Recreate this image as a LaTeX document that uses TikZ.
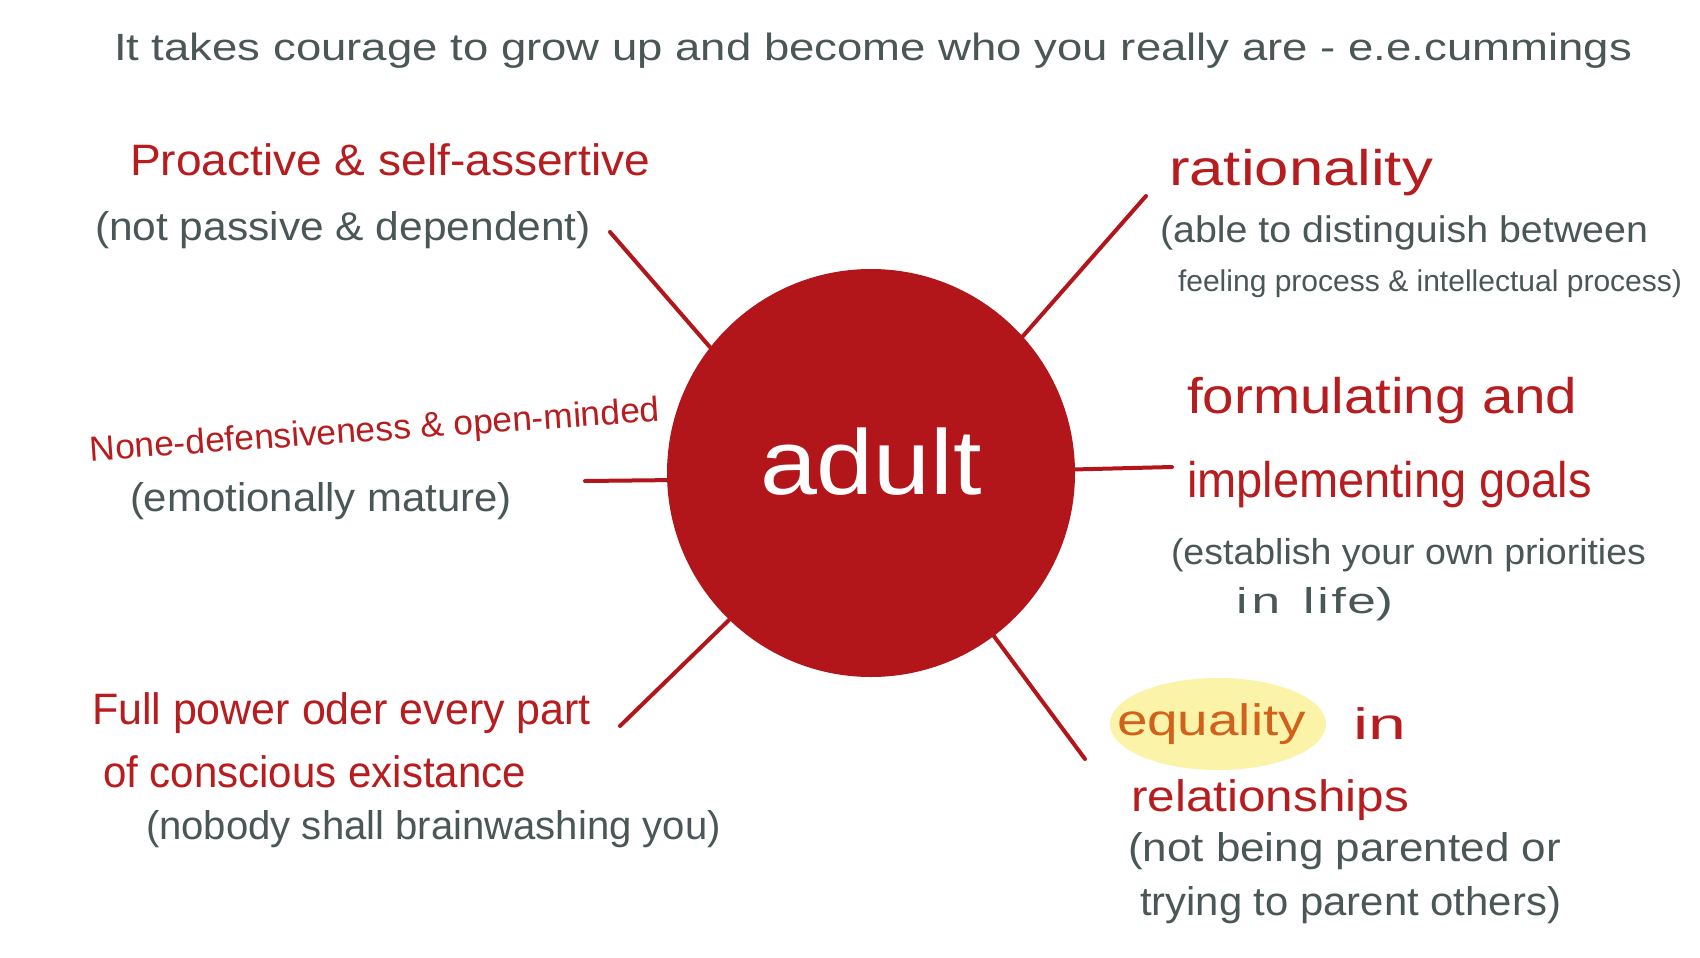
\documentclass[tikz,border=0pt]{standalone}
\usepackage{fontspec}
\setmainfont{Liberation Sans}
\usepackage{graphicx}
\usetikzlibrary{shapes.geometric}
\definecolor{cred}{HTML}{B2161A}
\definecolor{hred}{HTML}{B71C1F}
\definecolor{hgrey}{HTML}{4B5757}
\definecolor{horange}{HTML}{D0621B}
\definecolor{hyellow}{HTML}{FAF3A8}
\newcommand{\tw}[2]{\resizebox{#1pt}{\height}{#2}}
\begin{document}
\begin{tikzpicture}[x=1pt,y=-1pt,
  txt/.style={anchor=west, inner sep=0pt, outer sep=0pt},
  redt/.style={txt, text=hred},
  greyt/.style={txt, text=hgrey},
  big/.style={font=\fontsize{50pt}{56pt}\selectfont},
  mid/.style={font=\fontsize{44pt}{50pt}\selectfont},
  small/.style={font=\fontsize{40pt}{46pt}\selectfont},
  smaller/.style={font=\fontsize{36pt}{42pt}\selectfont},
  spoke/.style={draw=cred, line width=4pt, line cap=round}]
\useasboundingbox[fill=white] (0,0) rectangle (1700,958);

% title
\node[greyt, font=\fontsize{38pt}{44pt}\selectfont] (title) at (114,51) {\tw{1518}{It takes courage to grow up and become who you really are - e.e.cummings}};

% centre
\node[circle, fill=cred, minimum size=408pt, inner sep=0pt] (adult) at (871,473) {};
\node[inner sep=0pt, text=white, font=\fontsize{92pt}{96pt}\selectfont] (adulttext) at (871,462) {\tw{222}{adult}};

% spokes
\coordinate (ulend) at (610,232);
\coordinate (lend) at (585,481);
\coordinate (llend) at (620,726);
\coordinate (urend) at (1146,196);
\coordinate (rend) at (1172,467);
\coordinate (lrend) at (1085,759);
\draw[spoke] (adult.142) -- (ulend);
\draw[spoke] (adult.182) -- (lend);
\draw[spoke] (adult.226) -- (llend);
\draw[spoke] (adult.42) -- (urend);
\draw[spoke] (adult.1.5) -- (rend);
\draw[spoke] (adult.-53) -- (lrend);

% upper left
\node[redt, mid] (pa) at (130,160) {\tw{520}{Proactive \& self-assertive}};
\node[greyt, small] (pasub) at (95,230) {\tw{496}{(not passive \& dependent)}};

% left
\node[redt, font=\fontsize{35pt}{41pt}\selectfont, rotate=4] (nd) at (90,452) {\tw{571}{None-defensiveness \& open-minded}};
\node[greyt, small] (ndsub) at (130,501) {\tw{382}{(emotionally mature)}};

% lower left
\node[redt, mid] (fp1) at (92,713) {\tw{499}{Full power oder every part}};
\node[redt, mid] (fp2) at (103,772) {\tw{423}{of conscious existance}};
\node[greyt, small] (fpsub) at (146,829) {\tw{575}{(nobody shall brainwashing you)}};

% upper right
\node[redt, big] (rat) at (1169,173) {\tw{264}{rationality}};
\node[greyt, font=\fontsize{37pt}{43pt}\selectfont] (rat1) at (1160,233) {\tw{488}{(able to distinguish between}};
\node[greyt, font=\fontsize{30pt}{36pt}\selectfont] (rat2) at (1178,284) {\tw{504}{feeling process \& intellectual process)}};

% right
\node[redt, big] (fo1) at (1187,401) {\tw{390}{formulating and}};
\node[redt, big] (fo2) at (1187,485) {\tw{405}{implementing goals}};
\node[greyt, smaller] (fo3) at (1171,555) {\tw{475}{(establish your own priorities}};
\node[greyt, smaller] (fo4) at (1236,604) {\tw{157}{i\hspace{3pt}n\hspace{16pt}l\hspace{2pt}i\hspace{2pt}f\hspace{1pt}e)}};

% lower right
\node[ellipse, fill=hyellow, minimum width=216pt, minimum height=92pt, inner sep=0pt] (hl) at (1218,724) {};
\node[txt, text=horange, mid] (eq) at (1117,724) {\tw{189}{equality}};
\node[redt, mid] (in) at (1353,724) {\tw{53}{in}};
\node[redt, mid] (rel) at (1131,800) {\tw{278}{relationships}};
\node[greyt, small] (eq1) at (1128,851) {\tw{433}{(not being parented or}};
\node[greyt, small] (eq2) at (1140,905) {\tw{421}{trying to parent others)}};
\end{tikzpicture}
\end{document}
